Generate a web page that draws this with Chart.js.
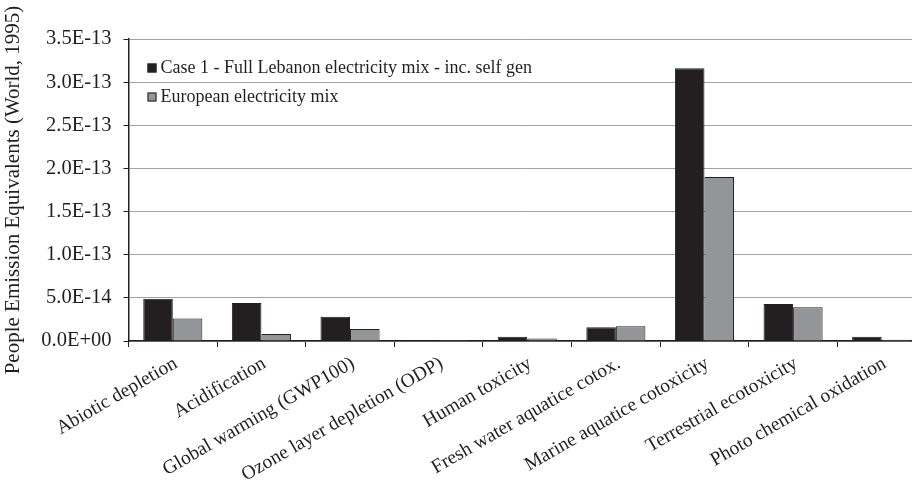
<!DOCTYPE html>
<html>
<head>
<meta charset="utf-8">
<script src="https://cdn.jsdelivr.net/npm/chart.js@4/dist/chart.umd.min.js"></script>
<style>
  html, body { margin: 0; padding: 0; background: #fff; overflow: hidden; width: 912px; height: 487px; }
  #wrap { width: 926px; height: 487px; position: relative; }
</style>
</head>
<body>
<div id="wrap"><canvas id="c"></canvas></div>
<script>
// Impact categories (normalised, World 1995)
const categories = [
  'Abiotic depletion',
  'Acidification',
  'Global warming (GWP100)',
  'Ozone layer depletion (ODP)',
  'Human toxicity',
  'Fresh water aquatice cotox.',
  'Marine aquatice cotoxicity',
  'Terrestrial ecotoxicity',
  'Photo chemical oxidation'
];

const seriesNames = [
  'Case 1 - Full Lebanon electricity mix - inc. self gen',
  'European electricity mix'
];

const lebanonMix = [4.9e-14, 4.4e-14, 2.8e-14, 2e-17, 0.5e-14, 1.6e-14, 3.16e-13, 4.3e-14, 0.5e-14];
const europeanMix = [2.6e-14, 0.8e-14, 1.4e-14, 1e-17, 0.3e-14, 1.7e-14, 1.9e-13, 3.9e-14, 0.15e-14];

const yTicks = [0, 5e-14, 1e-13, 1.5e-13, 2e-13, 2.5e-13, 3e-13, 3.5e-13];

const dark = '#231f20';
const grey = '#939598';
const serif = '"Liberation Serif", "Times New Roman", serif';

// Excel-style scientific notation, e.g. 3.5E-13, 0.0E+00
function sci(v) {
  if (Math.abs(v) < 1e-20) return '0.0E+00';
  const s = v.toExponential(1);
  const [m, e] = s.split('e');
  const n = parseInt(e, 10);
  const sign = n < 0 ? '-' : '+';
  const ex = String(Math.abs(n)).padStart(2, '0');
  return m + 'E' + sign + ex;
}

// Legend drawn inside the plot area, upper left
const innerLegend = {
  id: 'innerLegend',
  afterDatasetsDraw(chart) {
    const ctx = chart.ctx;
    const area = chart.chartArea;
    const x0 = area.left + 19;
    const rows = [area.top + 29, area.top + 58];
    ctx.save();
    ctx.font = '18px ' + serif;
    ctx.textBaseline = 'middle';
    ctx.textAlign = 'left';
    chart.data.datasets.forEach((ds, i) => {
      const y = rows[i];
      ctx.fillStyle = ds.backgroundColor;
      ctx.fillRect(x0, y - 4.5, 9, 9);
      ctx.strokeStyle = dark;
      ctx.lineWidth = 1;
      ctx.strokeRect(x0 + 0.5, y - 4, 8, 8);
      ctx.fillStyle = dark;
      ctx.fillText(ds.label, x0 + 13, y);
    });
    ctx.restore();
  }
};

new Chart(document.getElementById('c'), {
  type: 'bar',
  data: {
    labels: categories,
    datasets: [
      { label: seriesNames[0], data: lebanonMix, backgroundColor: dark, borderColor: dark, borderWidth: 1 },
      { label: seriesNames[1], data: europeanMix, backgroundColor: grey, borderColor: dark, borderWidth: 1 }
    ]
  },
  options: {
    responsive: true,
    maintainAspectRatio: false,
    animation: false,
    categoryPercentage: 0.667,
    barPercentage: 1.0,
    layout: { padding: { top: 39, right: 0, left: 0, bottom: 0 } },
    plugins: {
      legend: { display: false },
      tooltip: { enabled: false }
    },
    scales: {
      x: {
        offset: true,
        grid: { display: true, drawOnChartArea: false, offset: true, color: dark, tickLength: 6, tickWidth: 1 },
        border: { display: true, color: dark, width: 1.5 },
        ticks: {
          color: dark,
          font: { family: serif, size: 19.5 },
          minRotation: 30,
          maxRotation: 30,
          autoSkip: false,
          padding: 5,
          labelOffset: 3
        },
        afterFit(scale) { scale.height = 146; }
      },
      y: {
        min: 0,
        max: 3.5e-13,
        afterBuildTicks(scale) { scale.ticks = yTicks.map(v => ({ value: v })); },
        grid: { color: '#a3a3a3', lineWidth: 1, tickColor: dark, tickLength: 5 },
        border: { display: true, color: dark, width: 1.5 },
        ticks: {
          color: dark,
          font: { family: serif, size: 20.5 },
          padding: 12,
          callback: (v) => sci(v)
        },
        title: {
          display: true,
          text: 'People Emission Equivalents (World, 1995)',
          align: 'center',
          color: dark,
          font: { family: serif, size: 21 },
          padding: { top: 1, bottom: 0 }
        },
        afterFit(scale) { scale.width = 128.5; }
      }
    }
  },
  plugins: [innerLegend]
});
</script>
</body>
</html>
